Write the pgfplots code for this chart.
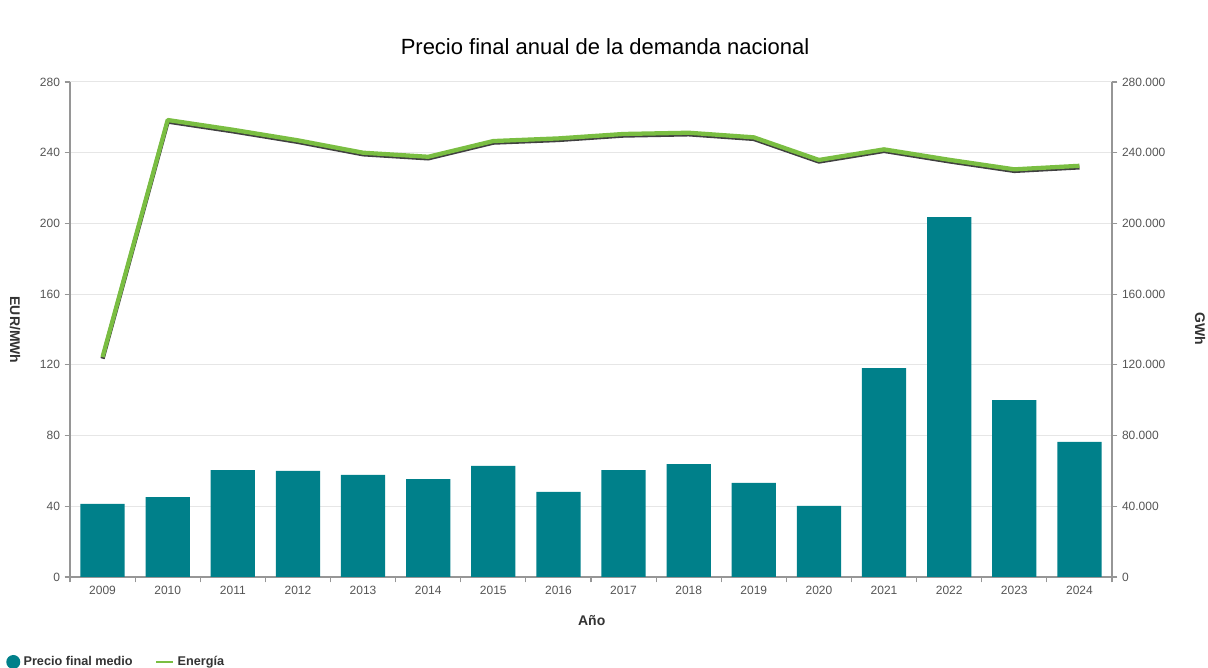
\documentclass[border=0pt]{standalone}
\usepackage{fontspec}
\setmainfont{Liberation Sans}
\usepackage{pgfplots}
\pgfplotsset{compat=1.18}
\definecolor{barteal}{RGB}{0,128,138}
\definecolor{linegreen}{RGB}{122,190,66}
\definecolor{ticktext}{RGB}{85,85,85}
\definecolor{axisgray}{RGB}{150,150,150}
\definecolor{gridgray}{RGB}{230,230,230}
\definecolor{labeltext}{RGB}{51,51,51}
\begin{document}
\begin{tikzpicture}
\path[use as bounding box] (0,0) rectangle (906pt,501pt);
\pgfplotsset{
  common/.style={
    at={(52.5pt,68.25pt)}, anchor=south west, scale only axis,
    width=781.5pt, height=371.25pt,
    xmin=-0.5, xmax=15.5, ymin=0,
    tick label style={font=\fontsize{9}{10}\selectfont, text=ticktext},
    /pgf/number format/assume math mode=true,
    axis line style={draw=axisgray, line width=0.9pt},
    tick style={draw=axisgray, line width=0.9pt},
    tick align=outside, major tick length=4pt,
  }
}
\begin{axis}[common, ymax=280, ytick={0,40,...,280},
  ymajorgrids, grid style={draw=gridgray, line width=0.75pt},
  axis x line*=bottom, axis y line*=left,
  xtick={-0.5,0.5,...,15.5}, xticklabels={},
  extra x ticks={0,...,15},
  extra x tick labels={2009,2010,2011,2012,2013,2014,2015,2016,2017,2018,2019,2020,2021,2022,2023,2024},
  extra x tick style={major tick length=0pt, xticklabel style={yshift=-3.5pt}},
  legend style={at={(axis description cs:-0.0614,-0.1717)}, anchor=west, draw=none, fill=none,
    inner sep=0pt, font=\bfseries\fontsize{9.5}{10}\selectfont, text=labeltext,
    nodes={inner sep=2.5pt},
    /tikz/every even column/.append style={column sep=14pt}},
  legend columns=2,
]
\addplot[ybar, bar width=33.2pt, fill=barteal, draw=none,
  legend image code/.code={\fill[barteal] (5.25pt,0pt) circle (5.25pt);}]
  coordinates {(0,41.3) (1,45.2) (2,60.5) (3,60.0) (4,57.7) (5,55.4) (6,62.8) (7,48.1)
               (8,60.5) (9,63.9) (10,53.2) (11,40.2) (12,118.2) (13,203.6) (14,100.1) (15,76.4)};
\addlegendentry{Precio final medio}
\addlegendimage{linegreen, line width=2pt, legend image code/.code={\draw (0pt,0pt) -- (12.75pt,0pt);}}
\addlegendentry{Energía}
\end{axis}
\begin{axis}[common, ymax=280000, axis y line*=right, axis x line=none,
  ytick={0,40000,80000,120000,160000,200000,240000,280000},
  yticklabels={0,40.000,80.000,120.000,160.000,200.000,240.000,280.000},
  scaled y ticks=false]
\addplot[draw=black!75, line width=3.2pt, yshift=-1.2pt, line join=round, forget plot]
  coordinates {(0,124400) (1,258500) (2,253000) (3,247000) (4,240000) (5,237700) (6,246600) (7,248100)
               (8,250600) (9,251300) (10,248700) (11,235900) (12,241900) (13,236000) (14,230600) (15,232600)};
\addplot[draw=linegreen, line width=3.2pt, line join=round]
  coordinates {(0,124400) (1,258500) (2,253000) (3,247000) (4,240000) (5,237700) (6,246600) (7,248100)
               (8,250600) (9,251300) (10,248700) (11,235900) (12,241900) (13,236000) (14,230600) (15,232600)};
\end{axis}
\node[font=\fontsize{16.5}{18}\selectfont, text=black] at (453.75pt,465.75pt) {Precio final anual de la demanda nacional};
\node[font=\bfseries\fontsize{10.5}{12}\selectfont, text=labeltext, rotate=-90] at (11.25pt,253.5pt) {EUR/MWh};
\node[font=\bfseries\fontsize{10.5}{12}\selectfont, text=labeltext, rotate=-90] at (900pt,254.25pt) {GWh};
\node[font=\bfseries\fontsize{10.5}{12}\selectfont, text=labeltext] at (443.8pt,35.5pt) {Año};
\end{tikzpicture}
\end{document}
